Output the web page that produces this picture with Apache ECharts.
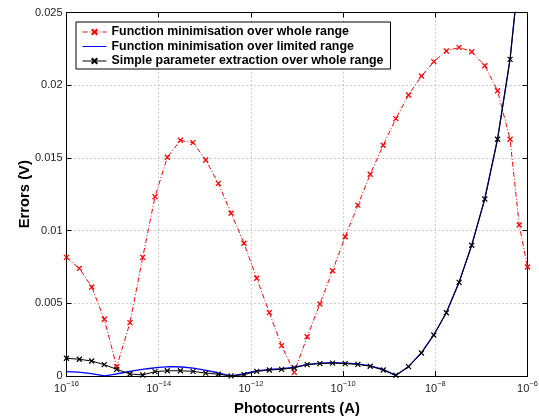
<!DOCTYPE html>
<html>
<head>
<meta charset="utf-8">
<script src="https://cdn.jsdelivr.net/npm/echarts@6/dist/echarts.min.js"></script>
<style>
    html, body { margin: 0; padding: 0; background: #fff; }
    #chart { width: 539px; height: 419px; }
</style>
</head>
<body>
<div id="chart"></div>
<script>
// log10 of the photocurrent (A) at each sample
var logCurrent = [-16, -15.722, -15.453, -15.18, -14.911, -14.623, -14.347, -14.08, -13.813, -13.53,
    -13.256, -12.98, -12.707, -12.43, -12.15, -11.874, -11.6, -11.334, -11.06, -10.78,
    -10.503, -10.23, -9.955, -9.68, -9.412, -9.13, -8.856, -8.58, -8.3, -8.032,
    -7.76, -7.483, -7.21, -6.926, -6.65, -6.378, -6.18, -6];

// Errors (V)
var wholeRange = [0.00816, 0.0074, 0.00612, 0.0039, 0.00064, 0.00367, 0.00816, 0.01233, 0.01504, 0.01621,
    0.01605, 0.01486, 0.01325, 0.01119, 0.00913, 0.00672, 0.00436, 0.00209, 0.00025, 0.0027,
    0.00495, 0.00724, 0.00958, 0.01175, 0.01387, 0.01587, 0.0177, 0.01933, 0.02063, 0.02162,
    0.02235, 0.0226, 0.0223, 0.02134, 0.01962, 0.01628, 0.01039, 0.0075];

var simpleExtraction = [0.00122, 0.00115, 0.00103, 0.00078, 0.00046, 0.00014, 0.00007, 0.0003, 0.00036, 0.00036,
    0.00032, 0.0002, 0.00012, 0.00001, 0.00009, 0.00032, 0.00041, 0.00046, 0.00057, 0.00078,
    0.00085, 0.00089, 0.00085, 0.0008, 0.00067, 0.00041, 0.00005, 0.00064, 0.00158, 0.00282,
    0.00435, 0.00644, 0.00899, 0.01217, 0.01628, 0.02178, 0.0279];

// limited-range fit, sampled more finely (no markers)
var limitedLog = [-16, -15.75, -15.5, -15.3, -15.18, -15.0, -14.75, -14.5, -14.25, -14.0,
    -13.75, -13.5, -13.25, -13.0, -12.75, -12.55, -12.43, -12.2, -11.9, -11.6,
    -11.33, -11.06, -10.78, -10.5, -10.23, -9.955, -9.68, -9.41, -9.13, -8.856,
    -8.58, -8.3, -8.03, -7.76, -7.483, -7.21, -6.926, -6.65, -6.378, -6.18];
var limitedRange = [0.0003, 0.00027, 0.00018, 0.00008, 0.00001, 0.0001, 0.00024, 0.00038, 0.0005, 0.00059,
    0.00064, 0.00062, 0.00054, 0.00041, 0.00024, 0.0001, 0.00001, 0.00012, 0.00033, 0.00045,
    0.0005, 0.0006, 0.0008, 0.00088, 0.00092, 0.00089, 0.00083, 0.0007, 0.00045, 0.00003,
    0.00066, 0.0016, 0.00284, 0.00437, 0.00646, 0.009, 0.0122, 0.0163, 0.0218, 0.0279];

var xTicks = { min: -16, max: -6, interval: 2 };
var yTicks = { min: 0, max: 0.025, interval: 0.005 };

var seriesNames = [
    'Function minimisation over whole range',
    'Function minimisation over limited range',
    'Simple parameter extraction over whole range'
];

var FONT = '"Liberation Sans", Arial, Helvetica, sans-serif';
var crossMark = 'path://M0,0L10,10M0,10L10,0';

function pairs(xs, ys) {
    return ys.map(function (y, i) { return [xs[i], y]; });
}

var chart = echarts.init(document.getElementById('chart'));

var option = {
    animation: false,
    backgroundColor: '#fff',
    textStyle: { fontFamily: FONT },
    grid: { left: 66.5, right: 11.5, top: 12.5, bottom: 43, outerBoundsMode: 'none' },
    legend: {
        orient: 'vertical',
        left: 76,
        top: 22,
        padding: [4, 7, 2, 6],
        itemGap: 2.5,
        itemWidth: 24,
        itemHeight: 7,
        backgroundColor: '#fff',
        borderColor: '#000',
        borderWidth: 1,
        borderRadius: 0,
        selectedMode: false,
        lineStyle: { width: 1 },
        textStyle: { fontFamily: FONT, fontWeight: 'bold', fontSize: 12.4, color: '#000' },
        data: [
            seriesNames[0],
            // line only, no marker in the key
            { name: seriesNames[1], itemStyle: { opacity: 0 } },
            seriesNames[2]
        ]
    },
    xAxis: [{
        type: 'value',
        min: xTicks.min, max: xTicks.max, interval: xTicks.interval,
        name: 'Photocurrents (A)',
        nameLocation: 'middle',
        nameGap: 25,
        nameMoveOverlap: false,
        nameTextStyle: { fontFamily: FONT, fontWeight: 'bold', fontSize: 14.8, color: '#000' },
        axisLine: { onZero: false, lineStyle: { color: '#000', width: 1 } },
        axisTick: { inside: true, length: 5, lineStyle: { color: '#000' } },
        axisLabel: {
            margin: 4,
            color: '#222',
            formatter: function (v) { return '{b|10}{s|\u2212' + Math.abs(v) + '}'; },
            rich: {
                b: { fontFamily: FONT, fontSize: 11, color: '#222' },
                s: { fontFamily: FONT, fontSize: 7.5, color: '#222', padding: [0, 0, 9, 0] }
            }
        },
        splitLine: { show: true, lineStyle: { color: '#999', type: [1, 3], width: 1 } }
    }, {
        type: 'value',
        position: 'top',
        min: xTicks.min, max: xTicks.max, interval: xTicks.interval,
        axisLine: { onZero: false, lineStyle: { color: '#000', width: 1 } },
        axisTick: { inside: true, length: 5, lineStyle: { color: '#000' } },
        axisLabel: { show: false },
        splitLine: { show: false }
    }],
    yAxis: [{
        type: 'value',
        min: yTicks.min, max: yTicks.max, interval: yTicks.interval,
        name: 'Errors (V)',
        nameLocation: 'middle',
        nameGap: 34,
        nameMoveOverlap: false,
        nameTextStyle: { fontFamily: FONT, fontWeight: 'bold', fontSize: 14.8, color: '#000' },
        axisLine: { show: true, onZero: false, lineStyle: { color: '#000', width: 1 } },
        axisTick: { show: true, inside: true, length: 5, lineStyle: { color: '#000' } },
        axisLabel: { margin: 4, fontFamily: FONT, fontSize: 11, color: '#222' },
        splitLine: { show: true, lineStyle: { color: '#999', type: [1, 3], width: 1 } }
    }, {
        type: 'value',
        position: 'right',
        min: yTicks.min, max: yTicks.max, interval: yTicks.interval,
        axisLine: { show: true, onZero: false, lineStyle: { color: '#000', width: 1 } },
        axisTick: { show: true, inside: true, length: 5, lineStyle: { color: '#000' } },
        axisLabel: { show: false },
        splitLine: { show: false }
    }],
    series: [{
        name: seriesNames[0],
        type: 'line',
        data: pairs(logCurrent, wholeRange),
        symbol: crossMark,
        symbolSize: 5,
        showAllSymbol: true,
        lineStyle: { color: '#ff0000', width: 1, type: [5, 2, 1, 2] },
        itemStyle: { color: '#ff0000', borderColor: '#ff0000', borderWidth: 1.3 },
        z: 2
    }, {
        name: seriesNames[1],
        type: 'line',
        data: pairs(limitedLog, limitedRange),
        symbol: 'none',
        lineStyle: { color: '#0000ff', width: 1.3 },
        itemStyle: { color: '#0000ff' },
        z: 3
    }, {
        name: seriesNames[2],
        type: 'line',
        data: pairs(logCurrent, simpleExtraction),
        symbol: crossMark,
        symbolSize: 5,
        showAllSymbol: true,
        lineStyle: { color: '#000', width: 1 },
        itemStyle: { color: '#000', borderColor: '#000', borderWidth: 1.2 },
        z: 4
    }]
};

chart.setOption(option);
</script>
</body>
</html>
